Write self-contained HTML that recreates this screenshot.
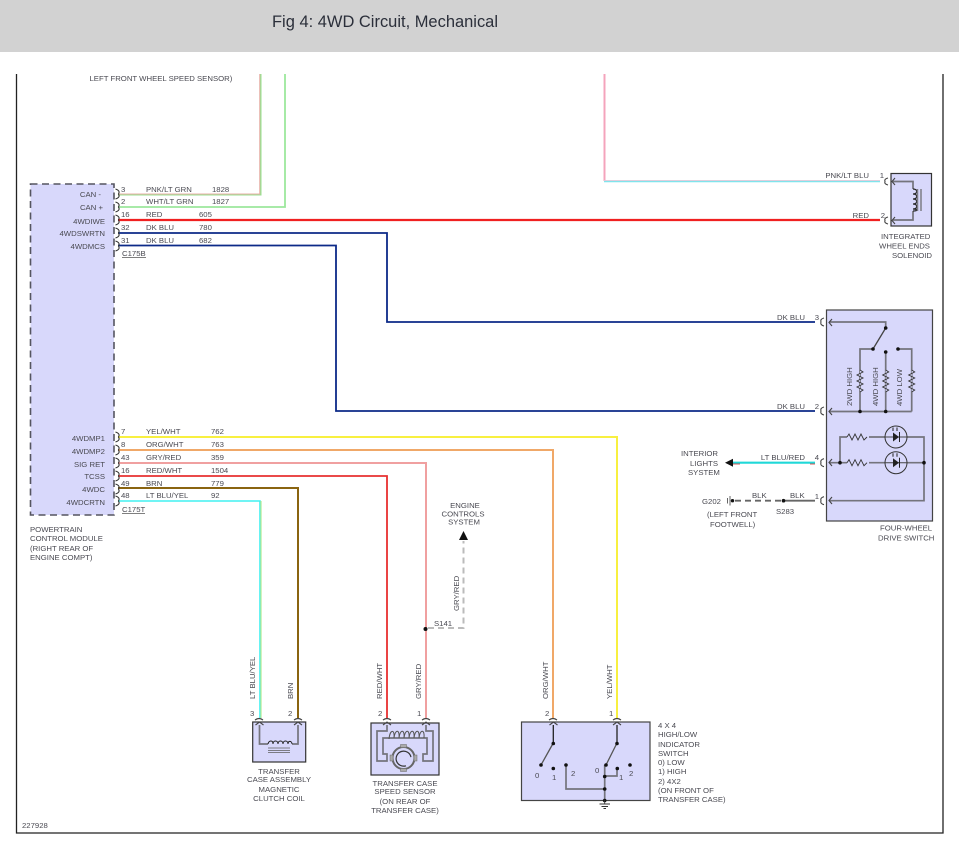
<!DOCTYPE html>
<html><head><meta charset="utf-8"><style>
html,body{margin:0;padding:0;background:#fff;width:959px;height:853px;overflow:hidden}
svg{display:block}
text{font-family:"Liberation Sans",sans-serif;font-size:7.75px;fill:#4a4a52}
.e{text-anchor:end}.m{text-anchor:middle}
.w{fill:none}
.i{fill:none;stroke:#74747c;stroke-width:1.7}
.k{fill:none;stroke:#333;stroke-width:1.1}
.b{fill:none;stroke:#444;stroke-width:1.1}
</style></head><body>
<svg width="959" height="853" viewBox="0 0 959 853" xmlns="http://www.w3.org/2000/svg">
<rect x="0" y="0" width="959" height="52" fill="#d2d2d2"/>
<text x="272" y="27" style="font-size:17px;fill:#2b2f3a" textLength="226" lengthAdjust="spacingAndGlyphs">Fig 4: 4WD Circuit, Mechanical</text>
<path d="M16.5 74V833H943V74" fill="none" stroke="#222" stroke-width="1.3"/>
<text x="89.5" y="81">LEFT FRONT WHEEL SPEED SENSOR)</text>

<!-- PCM -->
<rect x="30.5" y="184" width="83.5" height="331" fill="#d8d8fb" stroke="#555560" stroke-width="1.6" stroke-dasharray="7 4.5"/>
<text x="101" y="197" class="e">CAN -</text>
<text x="103" y="210" class="e">CAN +</text>
<text x="105" y="224" class="e">4WDIWE</text>
<text x="105" y="236" class="e">4WDSWRTN</text>
<text x="105" y="249" class="e">4WDMCS</text>
<text x="105" y="441" class="e">4WDMP1</text>
<text x="105" y="454" class="e">4WDMP2</text>
<text x="105" y="467" class="e">SIG RET</text>
<text x="105" y="479" class="e">TCSS</text>
<text x="105" y="492" class="e">4WDC</text>
<text x="105" y="505" class="e">4WDCRTN</text>

<!-- wires top -->
<path class="w" d="M118 194.5H260.5V74" stroke="#98e090" stroke-width="2"/>
<path class="w" d="M118 194H259.7V74" stroke="#e8b0a8" stroke-width="1"/>
<path class="w" d="M118 207H285V74" stroke="#9ce89c" stroke-width="1.8"/>
<path class="w" d="M118 220H880" stroke="#f02020" stroke-width="2.2"/>
<path class="w" d="M118 233H387V322H815" stroke="#0c2a88" stroke-width="1.8"/>
<path class="w" d="M118 245.5H336V411H815" stroke="#0c2a88" stroke-width="1.8"/>
<path class="w" d="M604.5 74V181" stroke="#f4a4bc" stroke-width="2"/>
<path class="w" d="M604 181.2H880" stroke="#80e4ec" stroke-width="2"/>
<path class="w" d="M604 180.500H880" stroke="#f6c4d4" stroke-width="0.700"/>

<!-- wires lower -->
<path class="w" d="M118 437H617V718" stroke="#f8f040" stroke-width="2"/>
<path class="w" d="M118 450H553V718" stroke="#f0a868" stroke-width="2"/>
<path class="w" d="M118 463H426V718" stroke="#f0a0a0" stroke-width="2"/>
<path class="w" d="M118 476H387V718" stroke="#e83030" stroke-width="1.8"/>
<path class="w" d="M118 488H298V718" stroke="#8a6410" stroke-width="2"/>
<path class="w" d="M118 501H260V718" stroke="#40f0f0" stroke-width="1.6"/>
<path class="w" d="M261 501V718" stroke="#b8e890" stroke-width="1.2"/>

<!-- PCM connector brackets -->
<path class="k" d="M115.5 189q5 1.5 3 5q2 3.500-3 5M115.500 202q5 1.500 3 5q2 3.500-3 5M115.500 215q5 1.500 3 5q2 3.500-3 5M115.500 228q5 1.500 3 5q2 3.500-3 5M115.500 241q5 1.500 3 5q2 3.500-3 5M115.500 432q5 1.500 3 5q2 3.500-3 5M115.500 445q5 1.500 3 5q2 3.500-3 5M115.500 458q5 1.500 3 5q2 3.500-3 5M115.500 471q5 1.500 3 5q2 3.500-3 5M115.500 484q5 1.500 3 5q2 3.500-3 5M115.500 496q5 1.500 3 5q2 3.500-3 5"/>

<!-- PCM pin labels -->
<text x="121" y="192">3</text><text x="146" y="192">PNK/LT GRN</text><text x="212" y="192">1828</text>
<text x="121" y="204">2</text><text x="146" y="204">WHT/LT GRN</text><text x="212" y="204">1827</text>
<text x="121" y="217">16</text><text x="146" y="217">RED</text><text x="199" y="217">605</text>
<text x="121" y="230">32</text><text x="146" y="230">DK BLU</text><text x="199" y="230">780</text>
<text x="121" y="243">31</text><text x="146" y="243">DK BLU</text><text x="199" y="243">682</text>
<text x="122" y="256">C175B</text><path d="M122 257.500H146" stroke="#555" stroke-width="0.7"/>
<text x="121" y="434">7</text><text x="146" y="434">YEL/WHT</text><text x="211" y="434">762</text>
<text x="121" y="447">8</text><text x="146" y="447">ORG/WHT</text><text x="211" y="447">763</text>
<text x="121" y="460">43</text><text x="146" y="460">GRY/RED</text><text x="211" y="460">359</text>
<text x="121" y="473">16</text><text x="146" y="473">RED/WHT</text><text x="211" y="473">1504</text>
<text x="121" y="486">49</text><text x="146" y="486">BRN</text><text x="211" y="486">779</text>
<text x="121" y="498">48</text><text x="146" y="498">LT BLU/YEL</text><text x="211" y="498">92</text>
<text x="122" y="512">C175T</text><path d="M122 513.500H145" stroke="#555" stroke-width="0.7"/>
<text x="30" y="532">POWERTRAIN</text>
<text x="30" y="541">CONTROL MODULE</text>
<text x="30" y="551">(RIGHT REAR OF</text>
<text x="30" y="560">ENGINE COMPT)</text>

<!-- Solenoid -->
<rect x="891" y="173.500" width="40.500" height="52.500" fill="#d8d8fb" stroke="#333" stroke-width="1.200"/>
<path class="i" d="M893 181.500H913V189M913 211V220H893"/>
<path d="M913 189c5 0 5 5 0 5c5 0 5 5 0 5c5 0 5 5 0 5c5 0 5 5 0 5c5 0 5 2 0 2" fill="none" stroke="#222" stroke-width="1.300"/>
<path d="M917.500 189V211M921 189V211" stroke="#7c7c84" stroke-width="1.500"/>
<path class="b" d="M895 178l-3 3.500l3 3.500M895 217l-3 3.500l3 3.500M888 178q-4 1-3 3.500q-1 2.500 3 3.500M888 217q-4 1-3 3.500q-1 2.500 3 3.500"/>
<text x="884" y="178" class="e">1</text>
<text x="885" y="218" class="e">2</text>
<text x="869" y="178" class="e">PNK/LT BLU</text>
<text x="869" y="218" class="e">RED</text>
<text x="881" y="239">INTEGRATED</text>
<text x="879" y="248.500">WHEEL ENDS</text>
<text x="932" y="258" class="e">SOLENOID</text>

<!-- Four-wheel drive switch -->
<rect x="826.500" y="310" width="106" height="211" fill="#d8d8fb" stroke="#444" stroke-width="1.200"/>
<path class="i" d="M829 322H885.700V328M860 411.500V349H873M885.700 352V411.500M898 349H911.700V411.500M829 411.500H911.700"/>
<path d="M885.700 328L873 349" stroke="#444" stroke-width="1.300"/>
<g fill="#111"><circle cx="885.700" cy="328" r="1.800"/><circle cx="873" cy="349" r="1.800"/><circle cx="885.700" cy="352" r="1.800"/><circle cx="898" cy="349" r="1.800"/><circle cx="860" cy="411.500" r="1.800"/><circle cx="885.700" cy="411.500" r="1.800"/></g>
<path d="M860 370l3 2l-6 3l6 3l-6 3l6 3l-6 3l6 3l-3 2M885.700 370l3 2l-6 3l6 3l-6 3l6 3l-6 3l6 3l-3 2M911.700 370l3 2l-6 3l6 3l-6 3l6 3l-6 3l6 3l-3 2" fill="#d8d8fb" stroke="#333" stroke-width="0.900"/>
<text transform="translate(852,406) rotate(-90)">2WD HIGH</text>
<text transform="translate(878,406) rotate(-90)">4WD HIGH</text>
<text transform="translate(902,406) rotate(-90)">4WD LOW</text>
<path class="i" d="M840 462.700V437H847M869 437H885M907 437H924V462.700M829 462.700H847M869 462.700H885M907 462.700H924M924 462.700V500.700H829"/>
<path d="M847 437l2-3l3 6l3-6l3 6l3-6l3 6l3-3M847 462.700l2-3l3 6l3-6l3 6l3-6l3 6l3-3" fill="none" stroke="#333" stroke-width="0.900"/>
<circle cx="896" cy="437" r="11" fill="none" stroke="#333" stroke-width="1"/>
<circle cx="896" cy="462.700" r="11" fill="none" stroke="#333" stroke-width="1"/>
<path d="M885 437H907M885 462.700H907" stroke="#444" stroke-width="1"/>
<path d="M893 432.500L899 437L893 441.500ZM893 458.200L899 462.700L893 467.200Z" fill="#222"/>
<path d="M899.500 432V442M899.500 457.700V467.700M893 427.500V431M897 427.500V431M893 453.200V456.700M897 453.200V456.700" stroke="#222" stroke-width="1"/>
<g fill="#111"><circle cx="840" cy="462.700" r="1.800"/><circle cx="924" cy="462.700" r="1.800"/></g>
<path class="b" d="M832 319l-3 3.500l3 3.500M832 408l-3 3.500l3 3.500M832 459l-3 3.500l3 3.500M832 497l-3 3.500l3 3.500"/>
<path class="b" d="M824 318q-4 1-3 4q-1 3 3 4M824 407q-4 1-3 4q-1 3 3 4M824 458.700q-4 1-3 4q-1 3 3 4M824 496.700q-4 1-3 4q-1 3 3 4"/>
<text x="819" y="320" class="e">3</text>
<text x="819" y="409" class="e">2</text>
<text x="819" y="460" class="e">4</text>
<text x="819" y="499" class="e">1</text>
<text x="805" y="320" class="e">DK BLU</text>
<text x="805" y="409" class="e">DK BLU</text>
<text x="805" y="460" class="e">LT BLU/RED</text>
<text x="880" y="530.500">FOUR-WHEEL</text>
<text x="878" y="540.500">DRIVE SWITCH</text>

<!-- interior lights -->
<path d="M733 462.700H815" stroke="#20d8d8" stroke-width="2.200"/>
<path d="M733 464H740M810 464H815" stroke="#d02020" stroke-width="0.800"/>
<path d="M725 462.700L733 458.700V466.700Z" fill="#111"/>
<text x="681" y="456">INTERIOR</text>
<text x="690" y="466">LIGHTS</text>
<text x="688" y="475">SYSTEM</text>

<!-- G202 -->
<path d="M735 500.700H783" stroke="#666" stroke-width="1.800" stroke-dasharray="6 4"/>
<path d="M783 500.700H815" stroke="#666" stroke-width="1.800"/>
<circle cx="732.500" cy="500.700" r="1.700" fill="#111"/><circle cx="783.500" cy="500.700" r="1.800" fill="#111"/>
<path d="M730 496V505.500M727.500 498V503.500" stroke="#555" stroke-width="0.900"/>
<text x="702" y="504">G202</text>
<text x="752" y="498">BLK</text>
<text x="790" y="498">BLK</text>
<text x="776" y="514">S283</text>
<text x="707" y="517">(LEFT FRONT</text>
<text x="710" y="527">FOOTWELL)</text>

<!-- Coil -->
<rect x="252.700" y="722" width="53" height="40" fill="#d8d8fb" stroke="#333" stroke-width="1.200"/>
<path class="i" d="M259.500 725V744H268M292 744H298V725"/>
<path d="M268 744c1-4 5-4 5 0c0-4 5-4 5 0c0-4 5-4 5 0c0-4 5-4 5 0c0-4 4-3 4 0" fill="none" stroke="#222" stroke-width="1"/>
<path d="M268 748H290M268 750.500H290M268 752.500H290" stroke="#7c7c84" stroke-width="1"/>
<path class="b" d="M255.500 725l4-3l4 3M294 725l4-3l4 3M255 720q4-3 8 0M294 720q4-3 8 0"/>
<text x="250" y="716">3</text><text x="288" y="716">2</text>
<text x="279" y="774" class="m">TRANSFER</text>
<text x="279" y="782" class="m">CASE ASSEMBLY</text>
<text x="279" y="792" class="m">MAGNETIC</text>
<text x="279" y="801" class="m">CLUTCH COIL</text>

<!-- Speed sensor -->
<rect x="371" y="723" width="68" height="52" fill="#d8d8fb" stroke="#333" stroke-width="1.200"/>
<path class="i" d="M387 725V731H377V761H387V754H383V738H427V754H423V761H433V731H426V725"/>
<path d="M389 739c1-10 6-10 5-1c1-9 6-9 5 0c1-9 6-9 5 0c1-9 6-9 5 0c1-9 6-9 5 0c1-9 6-9 5 0c1-9 6-9 5 0" fill="none" stroke="#555" stroke-width="1"/>
<circle cx="403.500" cy="758" r="11" fill="#d8d8fb" stroke="#666" stroke-width="2"/>
<path d="M409 752a7.500 7.500 0 1 1-10 0" transform="rotate(120 403.500 758)" fill="none" stroke="#333" stroke-width="1.200"/>
<g fill="#aaa" stroke="#666" stroke-width="0.500"><rect x="400.500" y="744.500" width="6" height="3"/><rect x="400.500" y="768.500" width="6" height="3"/><rect x="390" y="755" width="3" height="6"/><rect x="414" y="755" width="3" height="6"/></g>
<path class="b" d="M383 725l4-3l4 3M422 725l4-3l4 3M383 720q4-3 8 0M422 720q4-3 8 0"/>
<text x="378" y="716">2</text><text x="417" y="716">1</text>
<text x="405" y="786" class="m">TRANSFER CASE</text>
<text x="405" y="794" class="m">SPEED SENSOR</text>
<text x="405" y="804" class="m">(ON REAR OF</text>
<text x="405" y="813" class="m">TRANSFER CASE)</text>

<!-- Engine controls -->
<path d="M428 628H463.500V541" stroke="#bbb" stroke-width="2" fill="none" stroke-dasharray="6 4"/>
<path d="M463.500 531L459 540H468Z" fill="#111"/>
<circle cx="425.500" cy="629" r="2" fill="#111"/>
<text x="465" y="508" class="m">ENGINE</text>
<text x="463" y="516.500" class="m">CONTROLS</text>
<text x="464" y="524.500" class="m">SYSTEM</text>
<text transform="translate(459,611) rotate(-90)">GRY/RED</text>
<text x="434" y="626">S141</text>
<text transform="translate(255,699) rotate(-90)">LT BLU/YEL</text>
<text transform="translate(293,699) rotate(-90)">BRN</text>
<text transform="translate(382,699) rotate(-90)">RED/WHT</text>
<text transform="translate(421,699) rotate(-90)">GRY/RED</text>
<text transform="translate(548,699) rotate(-90)">ORG/WHT</text>
<text transform="translate(612,699) rotate(-90)">YEL/WHT</text>

<!-- Indicator switch -->
<rect x="521.500" y="722" width="128.500" height="78.500" fill="#d8d8fb" stroke="#444" stroke-width="1.200"/>
<path d="M553.300 725V743M617 725V743" stroke="#222" stroke-width="1.300"/>
<path d="M553.300 743L541 765M617 743L606 765" stroke="#555" stroke-width="1.300"/>
<path class="i" d="M604.700 765V800M604.700 776H617V768M566 765V789H604.700"/>
<g fill="#111"><circle cx="553.300" cy="743.500" r="1.800"/><circle cx="617" cy="743.500" r="1.800"/><circle cx="541" cy="765" r="1.800"/><circle cx="553.300" cy="768.500" r="1.800"/><circle cx="566" cy="765" r="1.800"/><circle cx="606" cy="765" r="1.800"/><circle cx="617.300" cy="768.500" r="1.800"/><circle cx="630" cy="765" r="1.800"/><circle cx="604.700" cy="776.500" r="1.800"/><circle cx="604.700" cy="789" r="1.800"/><circle cx="604.700" cy="800.500" r="1.800"/></g>
<path d="M604.700 800V804M599.500 804H610M601.500 806.500H608M603.500 808.500H606" stroke="#333" stroke-width="0.900"/>
<path class="b" d="M549.500 725l4-3l4 3M613 725l4-3l4 3M549 720q4-3 8 0M613 720q4-3 8 0"/>
<text x="545" y="716">2</text><text x="609" y="716">1</text>
<text x="535" y="778">0</text><text x="552" y="780">1</text><text x="571" y="776">2</text>
<text x="595" y="773">0</text><text x="619" y="780">1</text><text x="629" y="776">2</text>
<text x="658" y="728">4 X 4</text>
<text x="658" y="737">HIGH/LOW</text>
<text x="658" y="747">INDICATOR</text>
<text x="658" y="756">SWITCH</text>
<text x="658" y="765">0) LOW</text>
<text x="658" y="774">1) HIGH</text>
<text x="658" y="784">2) 4X2</text>
<text x="658" y="793">(ON FRONT OF</text>
<text x="658" y="802">TRANSFER CASE)</text>

<text x="22" y="828">227928</text>
</svg>
</body></html>
